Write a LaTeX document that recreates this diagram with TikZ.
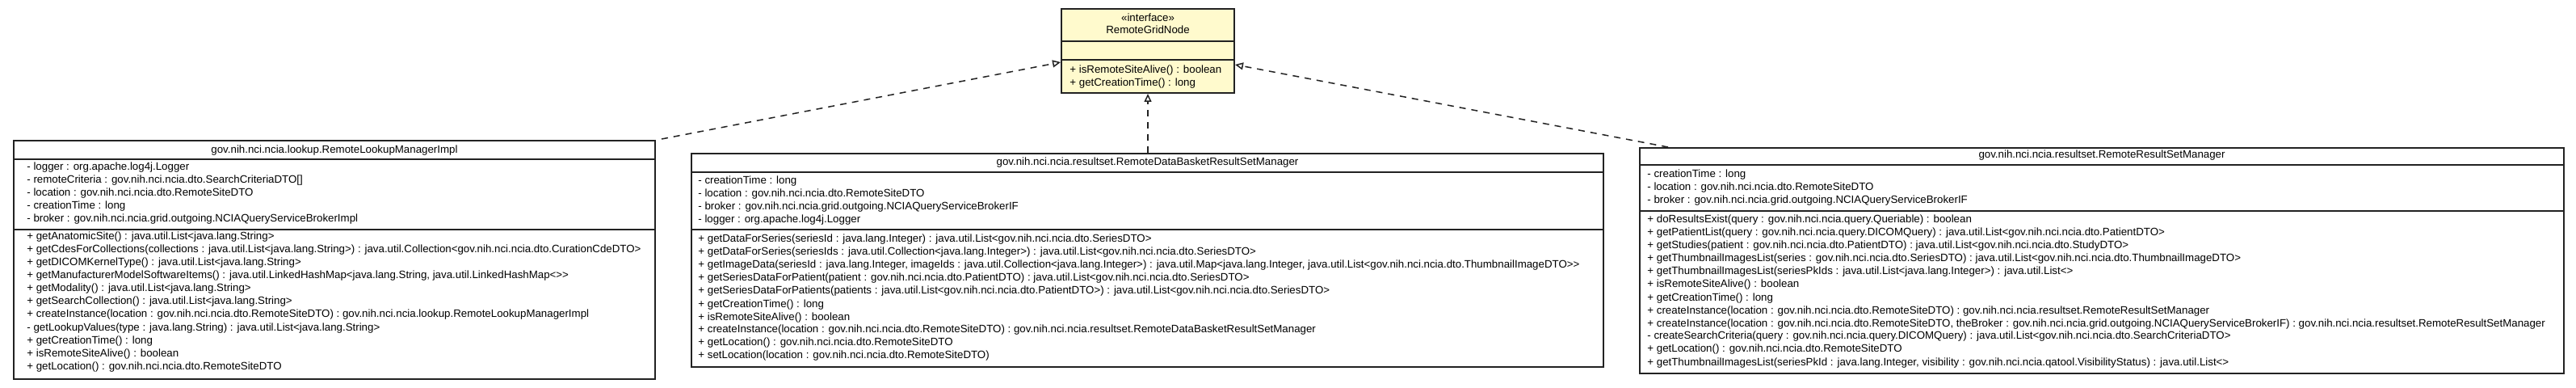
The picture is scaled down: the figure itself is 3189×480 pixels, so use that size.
\documentclass[tikz,border=0pt]{standalone}
\usepackage{fontspec}
\newfontfamily\umlfont{Liberation Sans}
\usepackage{xcolor}
\usetikzlibrary{arrows.meta}
\definecolor{UMLEdge}{HTML}{222222}
\definecolor{UMLNote}{HTML}{FFFACD}

\begin{document}
\begin{tikzpicture}[x=0.5pt,y=-0.5pt,
  classbox/.style={draw=UMLEdge,line width=1pt,fill=white,anchor=north west,inner sep=0pt},
  divider/.style={draw=UMLEdge,line width=1pt},
  member/.style={anchor=base west,inner sep=0pt,font=\umlfont\fontsize{6.65}{8}\selectfont},
  title/.style={anchor=base,inner sep=0pt,font=\umlfont\fontsize{6.65}{8}\selectfont},
  realize/.style={draw=UMLEdge,line width=.75pt,dash pattern=on 4pt off 3.5pt,-{Triangle[open,length=5pt,width=4.5pt]}}]
\path[use as bounding box] (0,0) rectangle (3189,480);
\fill[white] (0,0) rectangle (3189,480);
% interface
\node[classbox,fill=UMLNote,minimum width=107pt,minimum height=52pt] (grid) at (1313,10) {};
\draw[divider] (grid.west |- 0,51) -- (grid.east |- 0,51);
\draw[divider] (grid.west |- 0,74) -- (grid.east |- 0,74);
\node[title] (grid-st) at (grid.north |- 0,27) {«interface»};
\node[title] (grid-nm) at (grid.north |- 0,42) {RemoteGridNode};
\node[member] (grid-m0) at (1324,90.5) {+ isRemoteSiteAlive() : boolean};
\node[member] (grid-m1) at (1324,106.5) {+ getCreationTime() : long};
% lookup manager
\node[classbox,minimum width=397pt,minimum height=147.5pt] (lookup) at (16,173) {};
\draw[divider] (lookup.west |- 0,197) -- (lookup.east |- 0,197);
\draw[divider] (lookup.west |- 0,284) -- (lookup.east |- 0,284);
\node[title] (lookup-nm) at (lookup.north |- 0,189.5) {gov.nih.nci.ncia.lookup.RemoteLookupManagerImpl};
\foreach \t [count=\i from 0] in {
  - logger : org.apache.log4j.Logger,
  - remoteCriteria : gov.nih.nci.ncia.dto.SearchCriteriaDTO[],
  - location : gov.nih.nci.ncia.dto.RemoteSiteDTO,
  - creationTime : long,
  - broker : gov.nih.nci.ncia.grid.outgoing.NCIAQueryServiceBrokerImpl}
  \node[member] (lookup-a\i) at (33,211+16*\i) {\t};
\foreach \t [count=\i from 0] in {
  + getAnatomicSite() : java.util.List<java.lang.String>,
  + getCdesForCollections(collections : java.util.List<java.lang.String>) : java.util.Collection<gov.nih.nci.ncia.dto.CurationCdeDTO>,
  + getDICOMKernelType() : java.util.List<java.lang.String>,
  {+ getManufacturerModelSoftwareItems() : java.util.LinkedHashMap<java.lang.String, java.util.LinkedHashMap<>>},
  + getModality() : java.util.List<java.lang.String>,
  + getSearchCollection() : java.util.List<java.lang.String>,
  + createInstance(location : gov.nih.nci.ncia.dto.RemoteSiteDTO) : gov.nih.nci.ncia.lookup.RemoteLookupManagerImpl,
  - getLookupValues(type : java.lang.String) : java.util.List<java.lang.String>,
  + getCreationTime() : long,
  + isRemoteSiteAlive() : boolean,
  + getLocation() : gov.nih.nci.ncia.dto.RemoteSiteDTO}
  \node[member] (lookup-m\i) at (33,297+16*\i) {\t};
% data basket manager
\node[classbox,minimum width=564.5pt,minimum height=132pt] (basket) at (855,189) {};
\draw[divider] (basket.west |- 0,213) -- (basket.east |- 0,213);
\draw[divider] (basket.west |- 0,284) -- (basket.east |- 0,284);
\node[title] (basket-nm) at (basket.north |- 0,204.5) {gov.nih.nci.ncia.resultset.RemoteDataBasketResultSetManager};
\foreach \t [count=\i from 0] in {
  - creationTime : long,
  - location : gov.nih.nci.ncia.dto.RemoteSiteDTO,
  - broker : gov.nih.nci.ncia.grid.outgoing.NCIAQueryServiceBrokerIF,
  - logger : org.apache.log4j.Logger}
  \node[member] (basket-a\i) at (864,228+16*\i) {\t};
\foreach \t [count=\i from 0] in {
  + getDataForSeries(seriesId : java.lang.Integer) : java.util.List<gov.nih.nci.ncia.dto.SeriesDTO>,
  + getDataForSeries(seriesIds : java.util.Collection<java.lang.Integer>) : java.util.List<gov.nih.nci.ncia.dto.SeriesDTO>,
  {+ getImageData(seriesId : java.lang.Integer, imageIds : java.util.Collection<java.lang.Integer>) : java.util.Map<java.lang.Integer, java.util.List<gov.nih.nci.ncia.dto.ThumbnailImageDTO>>},
  + getSeriesDataForPatient(patient : gov.nih.nci.ncia.dto.PatientDTO) : java.util.List<gov.nih.nci.ncia.dto.SeriesDTO>,
  + getSeriesDataForPatients(patients : java.util.List<gov.nih.nci.ncia.dto.PatientDTO>) : java.util.List<gov.nih.nci.ncia.dto.SeriesDTO>,
  + getCreationTime() : long,
  + isRemoteSiteAlive() : boolean,
  + createInstance(location : gov.nih.nci.ncia.dto.RemoteSiteDTO) : gov.nih.nci.ncia.resultset.RemoteDataBasketResultSetManager,
  + getLocation() : gov.nih.nci.ncia.dto.RemoteSiteDTO,
  + setLocation(location : gov.nih.nci.ncia.dto.RemoteSiteDTO)}
  \node[member] (basket-m\i) at (864,300+16*\i) {\t};
% result set manager
\node[classbox,minimum width=572pt,minimum height=139.5pt] (result) at (2029,182) {};
\draw[divider] (result.west |- 0,204) -- (result.east |- 0,204);
\draw[divider] (result.west |- 0,261) -- (result.east |- 0,261);
\node[title] (result-nm) at (result.north |- 0,196) {gov.nih.nci.ncia.resultset.RemoteResultSetManager};
\foreach \t [count=\i from 0] in {
  - creationTime : long,
  - location : gov.nih.nci.ncia.dto.RemoteSiteDTO,
  - broker : gov.nih.nci.ncia.grid.outgoing.NCIAQueryServiceBrokerIF}
  \node[member] (result-a\i) at (2039,220+16*\i) {\t};
\foreach \t [count=\i from 0] in {
  + doResultsExist(query : gov.nih.nci.ncia.query.Queriable) : boolean,
  + getPatientList(query : gov.nih.nci.ncia.query.DICOMQuery) : java.util.List<gov.nih.nci.ncia.dto.PatientDTO>,
  + getStudies(patient : gov.nih.nci.ncia.dto.PatientDTO) : java.util.List<gov.nih.nci.ncia.dto.StudyDTO>,
  + getThumbnailImagesList(series : gov.nih.nci.ncia.dto.SeriesDTO) : java.util.List<gov.nih.nci.ncia.dto.ThumbnailImageDTO>,
  + getThumbnailImagesList(seriesPkIds : java.util.List<java.lang.Integer>) : java.util.List<>,
  + isRemoteSiteAlive() : boolean,
  + getCreationTime() : long,
  + createInstance(location : gov.nih.nci.ncia.dto.RemoteSiteDTO) : gov.nih.nci.ncia.resultset.RemoteResultSetManager,
  {+ createInstance(location : gov.nih.nci.ncia.dto.RemoteSiteDTO, theBroker : gov.nih.nci.ncia.grid.outgoing.NCIAQueryServiceBrokerIF) : gov.nih.nci.ncia.resultset.RemoteResultSetManager},
  - createSearchCriteria(query : gov.nih.nci.ncia.query.DICOMQuery) : java.util.List<gov.nih.nci.ncia.dto.SearchCriteriaDTO>,
  + getLocation() : gov.nih.nci.ncia.dto.RemoteSiteDTO,
  {+ getThumbnailImagesList(seriesPkId : java.lang.Integer, visibility : gov.nih.nci.ncia.qatool.VisibilityStatus) : java.util.List<>}}
  \node[member] (result-m\i) at (2039,276+16*\i) {\t};
% realizations
\draw[realize] ([xshift=3.5pt,yshift=.5pt]lookup.north east) -- ([yshift=-7pt]grid.west);
\draw[realize] (basket.north -| grid.south) -- (grid.south);
\draw[realize] ([xshift=18pt]result.north west) -- ([yshift=-8.5pt]grid.east);
\end{tikzpicture}
\end{document}
